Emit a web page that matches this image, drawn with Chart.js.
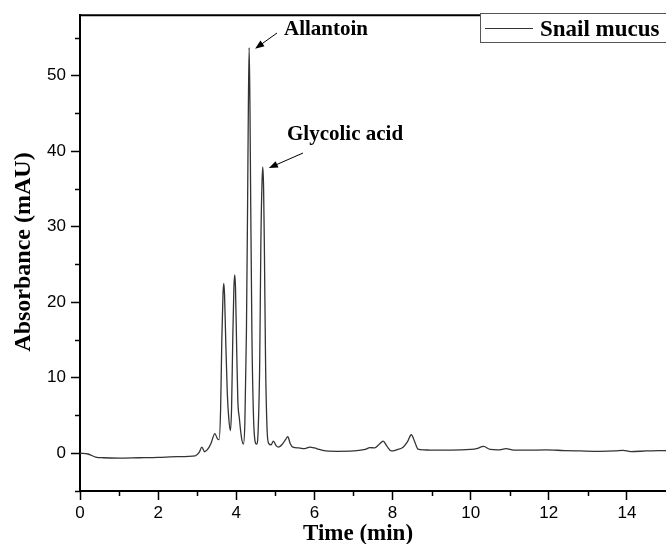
<!DOCTYPE html>
<html>
<head>
<meta charset="utf-8">
<script src="https://cdn.jsdelivr.net/npm/chart.js@4"></script>
<style>
  html, body { margin: 0; padding: 0; background: #fff; }
  #wrap { width: 666px; height: 544px; }
</style>
</head>
<body>
<div id="wrap"><canvas id="myChart" width="666" height="544"></canvas></div>
<script>
// Kromatogram verisi (dakika / mAU)
const times = [
  0, 0.2, 0.4, 0.6, 1.0, 1.5, 2.0, 2.5, 2.95, 3.05,
  3.12, 3.19, 3.28, 3.36, 3.45, 3.52, 3.56, 3.60, 3.63, 3.66,
  3.68, 3.70, 3.73, 3.77, 3.81, 3.85, 3.88, 3.91, 3.94, 3.96,
  3.98, 4.01, 4.04, 4.08, 4.13, 4.18, 4.22, 4.26, 4.29, 4.31,
  4.33, 4.35, 4.37, 4.40, 4.44, 4.48, 4.52, 4.56, 4.60, 4.63,
  4.66, 4.68, 4.70, 4.72, 4.75, 4.79, 4.83, 4.89, 4.95, 5.02,
  5.08, 5.18, 5.26, 5.32, 5.38, 5.45, 5.6, 5.75, 5.88, 6.0,
  6.13, 6.3, 6.6, 7.0, 7.3, 7.42, 7.54, 7.66, 7.76, 7.86,
  7.97, 8.1, 8.27, 8.38, 8.48, 8.57, 8.65, 8.8, 9.0, 9.5,
  10.0, 10.15, 10.33, 10.5, 10.7, 10.91, 11.1, 11.4, 11.93, 12.4,
  12.8, 13.3, 13.7, 13.9, 14.1, 14.5, 15
];
const absorbance = [
  0, -0.1, -0.5, -0.6, -0.65, -0.6, -0.55, -0.45, -0.35, 0.1,
  0.8, 0.2, 0.6, 1.4, 2.6, 1.9, 1.8, 6, 15, 21,
  22.5, 21, 15, 8, 4.5, 3.0, 6, 15, 22, 23.6,
  22, 14, 7, 4.6, 2.2, 1.2, 4, 16, 33, 46,
  53.7, 46, 33, 16, 5, 1.6, 1.2, 3, 12, 28,
  36, 37.9, 35, 27, 12, 3, 1.3, 1.1, 1.6, 1.0,
  0.8, 1.2, 1.8, 2.2, 1.3, 0.8, 0.7, 0.6, 0.8, 0.7,
  0.5, 0.3, 0.25, 0.3, 0.5, 0.75, 0.7, 1.2, 1.6, 0.9,
  0.3, 0.45, 0.8, 1.5, 2.45, 1.5, 0.55, 0.45, 0.4, 0.4,
  0.5, 0.6, 0.9, 0.5, 0.45, 0.6, 0.4, 0.4, 0.45, 0.35,
  0.3, 0.25, 0.3, 0.38, 0.22, 0.3, 0.35
];

// Eksen etiketleri
const xTicks = [0, 2, 4, 6, 8, 10, 12, 14];
const xMinorTicks = [1, 3, 5, 7, 9, 11, 13];
const yTicks = [0, 10, 20, 30, 40, 50];
const yMinorTicks = [-5, 5, 15, 25, 35, 45, 55];

// Tepe noktası etiketleri
const peakLabels = ['Allantoin', 'Glycolic acid'];
const peakTimes = [4.33, 4.68];
const peakValues = [53.7, 37.9];

const seriesName = 'Snail mucus';
const xTitle = 'Time (min)';
const yTitle = 'Absorbance (mAU)';

const serif = '"Liberation Serif", "Times New Roman", serif';
const sans = '"Liberation Sans", Arial, sans-serif';

function arrow(ctx, x1, y1, x2, y2) {
    const a = Math.atan2(y2 - y1, x2 - x1);
    ctx.beginPath();
    ctx.moveTo(x1, y1);
    ctx.lineTo(x2 - 6 * Math.cos(a), y2 - 6 * Math.sin(a));
    ctx.stroke();
    ctx.beginPath();
    ctx.moveTo(x2, y2);
    ctx.lineTo(x2 - 9 * Math.cos(a) + 3.5 * Math.sin(a), y2 - 9 * Math.sin(a) - 3.5 * Math.cos(a));
    ctx.lineTo(x2 - 9 * Math.cos(a) - 3.5 * Math.sin(a), y2 - 9 * Math.sin(a) + 3.5 * Math.cos(a));
    ctx.closePath();
    ctx.fill();
}

// Ara çentikler, başlıklar, oklar ve lejant
const decorPlugin = {
    id: 'decor',
    afterDraw(chart) {
        const ctx = chart.ctx;
        const xs = chart.scales.x, ys = chart.scales.y;
        const area = chart.chartArea;
        ctx.save();
        ctx.strokeStyle = '#000';
        ctx.fillStyle = '#000';

        // ara çentikler
        ctx.lineWidth = 1.5;
        xMinorTicks.forEach(v => {
            const px = Math.round(xs.getPixelForValue(v)) + 0.5;
            ctx.beginPath();
            ctx.moveTo(px, area.bottom);
            ctx.lineTo(px, area.bottom + 5);
            ctx.stroke();
        });
        yMinorTicks.forEach(v => {
            const py = Math.round(ys.getPixelForValue(v)) + 0.5;
            ctx.beginPath();
            ctx.moveTo(area.left, py);
            ctx.lineTo(area.left - 5, py);
            ctx.stroke();
        });

        // üst çerçeve
        ctx.lineWidth = 2;
        ctx.beginPath();
        ctx.moveTo(area.left - 1, area.top);
        ctx.lineTo(area.right, area.top);
        ctx.stroke();

        // tepe etiketleri
        ctx.font = 'bold 21px ' + serif;
        ctx.textAlign = 'left';
        ctx.textBaseline = 'alphabetic';
        ctx.lineWidth = 1;
        const labelPos = [[284, 35], [287, 140]];
        const tailOff = [[-7, -2], [16, 13]];
        peakLabels.forEach((t, i) => {
            const [lx, ly] = labelPos[i];
            ctx.fillText(t, lx, ly);
            const hx = xs.getPixelForValue(peakTimes[i]) + 6;
            const hy = ys.getPixelForValue(peakValues[i]) + 1;
            arrow(ctx, lx + tailOff[i][0], ly + tailOff[i][1], hx, hy);
        });

        // lejant
        ctx.fillStyle = '#fff';
        ctx.fillRect(480, 13, 190, 29);
        ctx.strokeStyle = '#555';
        ctx.lineWidth = 1;
        ctx.strokeRect(480.5, 13.5, 190, 29);
        ctx.strokeStyle = '#333';
        ctx.beginPath();
        ctx.moveTo(485, 28.5);
        ctx.lineTo(533, 28.5);
        ctx.stroke();
        ctx.fillStyle = '#000';
        ctx.font = 'bold 23px ' + serif;
        ctx.fillText(seriesName, 540, 36);

        // eksen başlıkları
        ctx.textAlign = 'center';
        ctx.fillText(xTitle, 358, 540);
        ctx.font = 'bold 24px ' + serif;
        ctx.translate(30, 252);
        ctx.rotate(-Math.PI / 2);
        ctx.fillText(yTitle, 0, 0);
        ctx.restore();
    }
};

const ctx = document.getElementById('myChart').getContext('2d');
let chart = new Chart(ctx, {
    type: 'line',
    data: {
        datasets: [{
            label: seriesName,
            data: times.map((t, i) => ({ x: t, y: absorbance[i] })),
            borderColor: '#333',
            borderWidth: 1.3,
            pointRadius: 0,
            cubicInterpolationMode: 'monotone',
            fill: false
        }]
    },
    options: {
        responsive: false,
        animation: false,
        layout: { padding: { top: 12, right: 0, left: 0, bottom: 0 } },
        plugins: {
            legend: { display: false },
            tooltip: { enabled: false }
        },
        scales: {
            x: {
                type: 'linear',
                min: 0,
                max: 15,
                afterBuildTicks: s => { s.ticks = xTicks.map(v => ({ value: v })); },
                afterFit: s => { s.height = 53; },
                border: { display: true, color: '#000', width: 2 },
                grid: { drawOnChartArea: false, drawTicks: true, tickLength: 9, tickWidth: 1.5, tickColor: '#000' },
                ticks: { color: '#000', font: { family: sans, size: 17 }, padding: 3, maxRotation: 0 }
            },
            y: {
                type: 'linear',
                min: -5,
                max: 58,
                afterBuildTicks: s => { s.ticks = yTicks.map(v => ({ value: v })); },
                afterFit: s => { s.width = 80; },
                border: { display: true, color: '#000', width: 2 },
                grid: { drawOnChartArea: false, drawTicks: true, tickLength: 9, tickWidth: 1.5, tickColor: '#000' },
                ticks: { color: '#000', font: { family: sans, size: 17 }, padding: 5 }
            }
        }
    },
    plugins: [decorPlugin]
});
</script>
</body>
</html>
